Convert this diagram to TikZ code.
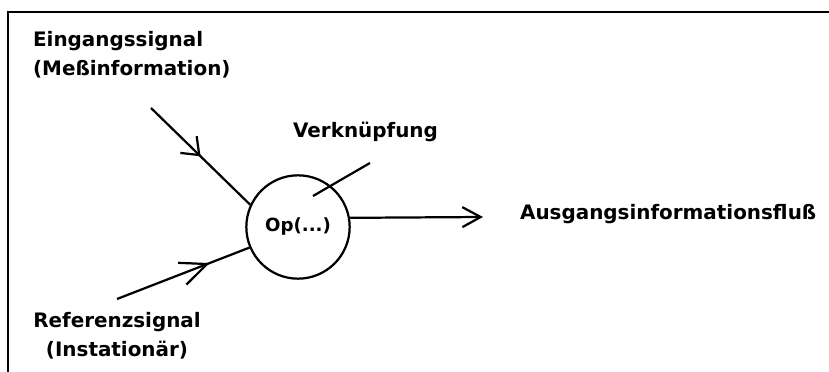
\documentclass[tikz,border=0pt]{standalone}
\usepackage{fontspec}
\setmainfont{DejaVu Sans}
\usetikzlibrary{arrows.meta, decorations.markings}

\begin{document}
\begin{tikzpicture}[x=0.3mm, y=-0.3mm, line width=1.9pt,
  lbl/.style={font=\bfseries\fontsize{17}{24.7}\selectfont, inner sep=0pt},
  midarrow/.style 2 args={postaction={decorate}, decoration={markings,
    mark=at position #1 with {\arrow{Straight Barb[length=#2, width=7mm]}}}}]
  \useasboundingbox (0,0) rectangle (829,372);
  % frame, open at the right and the bottom
  \draw[line width=2.2pt] (8,372) -- (8,12) -- (829,12);

  \node[lbl, font=\bfseries\fontsize{15.5}{18}\selectfont, draw, circle,
    minimum size=31mm] (op) at (298,227) {Op(...)};
  \node[lbl, anchor=north west, align=left] (ein) at (32,30) {Eingangssignal\\(Meßinformation)};
  \node[lbl, anchor=north, align=center] (ref) at (117,311) {Referenzsignal\\(Instationär)};
  \node[lbl, anchor=base west] (verk) at (292,138) {Verknüpfung};
  \node[lbl, anchor=base west] (aus) at (519,220) {Ausgangsinformationsfluß};

  \coordinate (ein0) at (151,108);
  \coordinate (ref0) at (117,299);
  \coordinate (verk0) at (370,163);
  \coordinate (verk1) at (313,196);
  \coordinate (aus0) at (483,217);

  \draw[midarrow={0.5}{4.5mm}] (ein0) -- (op.155);
  \draw[midarrow={0.7}{8mm}] (ref0) -- (op.203);
  \draw (verk0) -- (verk1);
  \draw[-{Straight Barb[length=5.5mm, width=6mm]}] (op.10) -- (aus0);
\end{tikzpicture}
\end{document}
